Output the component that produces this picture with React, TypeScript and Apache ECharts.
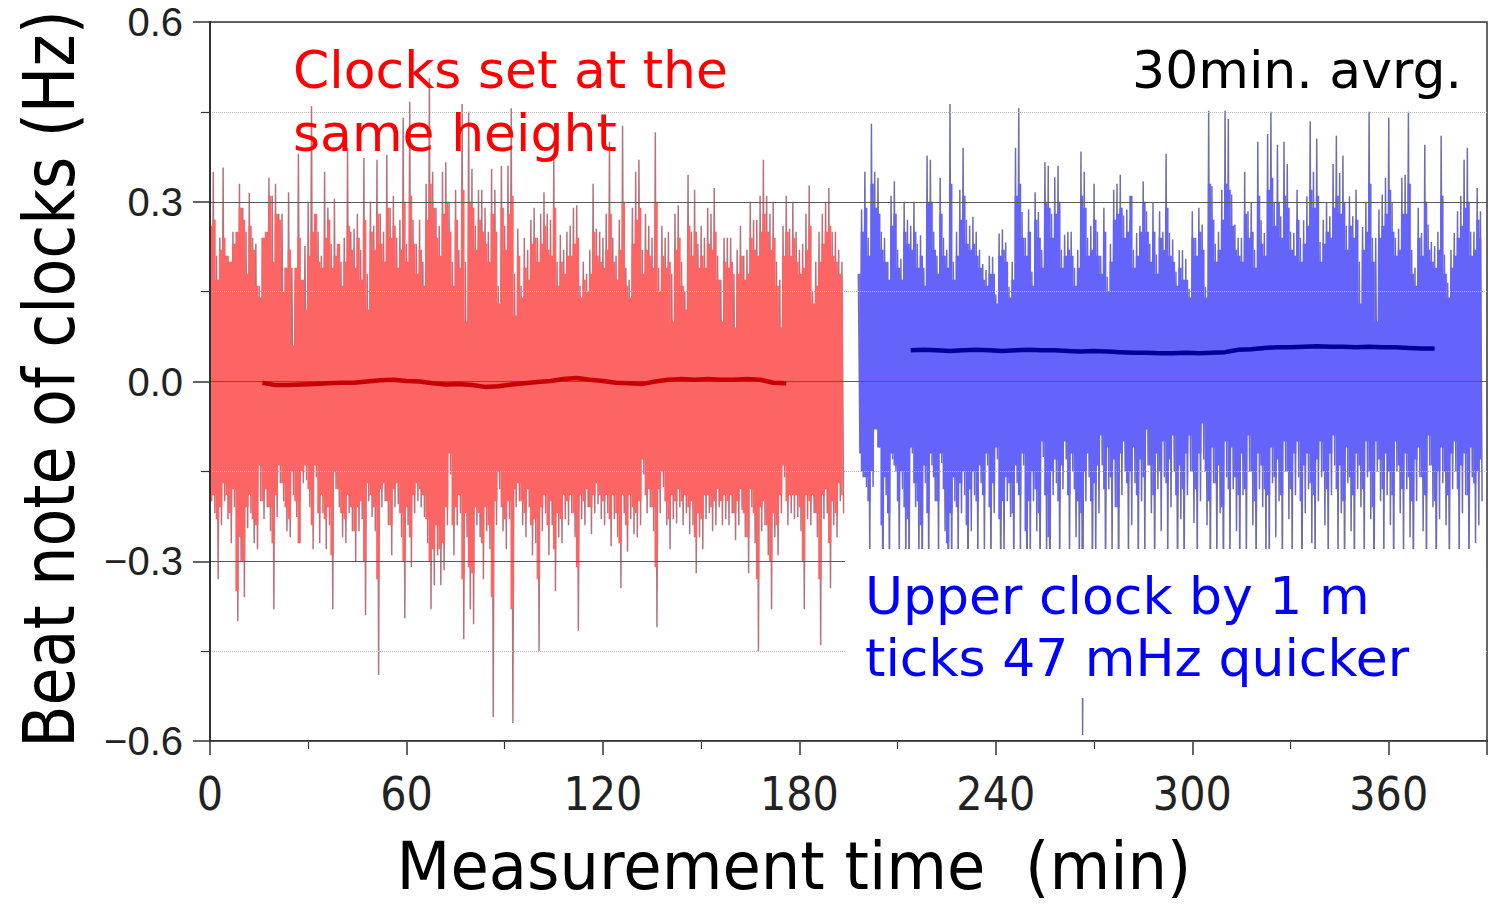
import React, { useEffect, useRef } from "react";
import * as echarts from "echarts";

// ---------- data (minutes, Hz) ----------
const RED_START = 0; // first minute of red record
const BLUE_START = 198; // first minute of blue record
const STEP = 1; // one value per minute in each array below

// spike tips (thin, muted strokes)
const redHigh = [
  0.27, 0.35, 0.21, 0.24, 0.357, 0.21, 0.2, 0.25, 0.22, 0.33,
  0.29, 0.25, 0.315, 0.24, 0.23, 0.16, 0.24, 0.22, 0.34, 0.31,
  0.33, 0.28, 0.28, 0.19, 0.316, 0.19, 0.17, 0.38, 0.16, 0.226,
  0.3, 0.46, 0.22, 0.25, 0.21, 0.35, 0.29, 0.23, 0.305, 0.22,
  0.2, 0.24, 0.39, 0.25, 0.255, 0.28, 0.22, 0.373, 0.18, 0.3,
  0.26, 0.37, 0.28, 0.25, 0.378, 0.29, 0.31, 0.24, 0.27, 0.44,
  0.23, 0.467, 0.27, 0.23, 0.27, 0.2, 0.33, 0.506, 0.35, 0.29,
  0.26, 0.35, 0.366, 0.3, 0.2, 0.32, 0.22, 0.463, 0.2, 0.45,
  0.355, 0.26, 0.32, 0.32, 0.29, 0.25, 0.355, 0.32, 0.16, 0.36,
  0.26, 0.36, 0.456, 0.18, 0.255, 0.16, 0.24, 0.22, 0.27, 0.29,
  0.24, 0.28, 0.316, 0.28, 0.27, 0.37, 0.2, 0.245, 0.22, 0.25,
  0.26, 0.29, 0.294, 0.16, 0.2, 0.18, 0.22, 0.33, 0.255, 0.25,
  0.24, 0.28, 0.4, 0.24, 0.21, 0.27, 0.427, 0.19, 0.17, 0.29,
  0.35, 0.37, 0.22, 0.28, 0.26, 0.24, 0.416, 0.19, 0.26, 0.24,
  0.25, 0.18, 0.28, 0.294, 0.2, 0.15, 0.345, 0.25, 0.32, 0.23,
  0.26, 0.24, 0.29, 0.28, 0.323, 0.21, 0.17, 0.24, 0.24, 0.24,
  0.18, 0.22, 0.26, 0.21, 0.22, 0.3, 0.27, 0.27, 0.31, 0.37,
  0.31, 0.28, 0.3, 0.2, 0.17, 0.26, 0.31, 0.255, 0.3, 0.25,
  0.22, 0.23, 0.28, 0.327, 0.15, 0.2, 0.25, 0.28, 0.3, 0.323,
  0.25, 0.25, 0.22, 0.2,
];
const redLow = [
  -0.19, -0.22, -0.33, -0.24, -0.2, -0.23, -0.27, -0.21, -0.4, -0.3,
  -0.36, -0.245, -0.22, -0.27, -0.28, -0.2, -0.23, -0.21, -0.25, -0.38,
  -0.226, -0.17, -0.2, -0.25, -0.26, -0.19, -0.226, -0.2, -0.17, -0.165,
  -0.21, -0.28, -0.16, -0.27, -0.22, -0.28, -0.24, -0.38, -0.18, -0.21,
  -0.26, -0.27, -0.22, -0.25, -0.3, -0.25, -0.23, -0.39, -0.2, -0.226,
  -0.25, -0.49, -0.21, -0.2, -0.24, -0.29, -0.21, -0.205, -0.26, -0.395,
  -0.24, -0.31, -0.22, -0.2, -0.21, -0.226, -0.27, -0.38, -0.34, -0.29,
  -0.34, -0.315, -0.24, -0.155, -0.29, -0.24, -0.22, -0.43, -0.26, -0.38,
  -0.405, -0.24, -0.26, -0.33, -0.25, -0.28, -0.56, -0.24, -0.18, -0.25,
  -0.28, -0.23, -0.57, -0.21, -0.2, -0.24, -0.26, -0.21, -0.29, -0.27,
  -0.45, -0.25, -0.22, -0.29, -0.24, -0.35, -0.26, -0.27, -0.23, -0.24,
  -0.22, -0.26, -0.416, -0.23, -0.24, -0.21, -0.255, -0.22, -0.205, -0.23,
  -0.24, -0.22, -0.275, -0.23, -0.26, -0.345, -0.22, -0.284, -0.23, -0.255,
  -0.26, -0.24, -0.155, -0.22, -0.21, -0.25, -0.41, -0.22, -0.176, -0.24,
  -0.28, -0.23, -0.237, -0.21, -0.24, -0.22, -0.255, -0.24, -0.32, -0.26,
  -0.28, -0.23, -0.22, -0.25, -0.24, -0.21, -0.24, -0.23, -0.24, -0.22,
  -0.265, -0.24, -0.215, -0.26, -0.32, -0.21, -0.27, -0.45, -0.25, -0.24,
  -0.29, -0.38, -0.26, -0.29, -0.22, -0.16, -0.24, -0.22, -0.23, -0.226,
  -0.25, -0.38, -0.23, -0.24, -0.22, -0.26, -0.44, -0.23, -0.22, -0.345,
  -0.24, -0.26, -0.2, -0.22,
];
// dense bright band edges
const redFillTop = [
  0.26, 0.27, 0.17, 0.22, 0.24, 0.21, 0.2, 0.23, 0.25, 0.29,
  0.27, 0.18, 0.26, 0.22, 0.16, 0.14, 0.24, 0.25, 0.31, 0.2,
  0.28, 0.27, 0.15, 0.19, 0.22, 0.06, 0.19, 0.24, 0.17, 0.12,
  0.21, 0.25, 0.28, 0.2, 0.19, 0.24, 0.27, 0.19, 0.21, 0.23,
  0.16, 0.2, 0.26, 0.22, 0.19, 0.24, 0.17, 0.27, 0.12, 0.25,
  0.22, 0.28, 0.23, 0.2, 0.29, 0.24, 0.26, 0.19, 0.22, 0.3,
  0.2, 0.31, 0.23, 0.18, 0.22, 0.16, 0.27, 0.33, 0.29, 0.24,
  0.21, 0.28, 0.3, 0.25, 0.16, 0.27, 0.19, 0.32, 0.1, 0.3,
  0.29, 0.22, 0.27, 0.25, 0.23, 0.2, 0.28, 0.25, 0.13, 0.29,
  0.22, 0.28, 0.31, 0.11, 0.21, 0.14, 0.19, 0.17, 0.23, 0.24,
  0.2, 0.23, 0.26, 0.22, 0.21, 0.29, 0.16, 0.2, 0.18, 0.21,
  0.21, 0.23, 0.24, 0.14, 0.17, 0.15, 0.18, 0.25, 0.21, 0.2,
  0.19, 0.22, 0.28, 0.2, 0.17, 0.22, 0.3, 0.16, 0.14, 0.23,
  0.27, 0.29, 0.18, 0.22, 0.21, 0.19, 0.3, 0.15, 0.21, 0.19,
  0.2, 0.1, 0.22, 0.24, 0.16, 0.12, 0.26, 0.21, 0.25, 0.19,
  0.21, 0.19, 0.23, 0.22, 0.25, 0.17, 0.1, 0.2, 0.19, 0.2,
  0.09, 0.18, 0.21, 0.17, 0.18, 0.24, 0.22, 0.21, 0.25, 0.28,
  0.25, 0.22, 0.24, 0.16, 0.09, 0.21, 0.25, 0.21, 0.24, 0.2,
  0.18, 0.19, 0.22, 0.26, 0.13, 0.16, 0.2, 0.23, 0.25, 0.26,
  0.21, 0.2, 0.18, 0.17,
];
const redFillBottom = [
  -0.2, -0.19, -0.23, -0.21, -0.17, -0.19, -0.22, -0.18, -0.35, -0.26,
  -0.3, -0.21, -0.19, -0.23, -0.24, -0.14, -0.2, -0.18, -0.21, -0.27,
  -0.19, -0.14, -0.17, -0.21, -0.23, -0.15, -0.2, -0.27, -0.15, -0.14,
  -0.18, -0.24, -0.14, -0.22, -0.19, -0.23, -0.21, -0.29, -0.15, -0.18,
  -0.22, -0.23, -0.19, -0.21, -0.25, -0.21, -0.2, -0.3, -0.17, -0.19,
  -0.21, -0.33, -0.18, -0.17, -0.2, -0.24, -0.18, -0.17, -0.22, -0.3,
  -0.21, -0.26, -0.19, -0.17, -0.18, -0.19, -0.23, -0.3, -0.28, -0.24,
  -0.28, -0.27, -0.21, -0.12, -0.24, -0.21, -0.19, -0.33, -0.22, -0.31,
  -0.32, -0.21, -0.22, -0.27, -0.21, -0.24, -0.36, -0.2, -0.15, -0.21,
  -0.23, -0.2, -0.38, -0.18, -0.17, -0.2, -0.22, -0.18, -0.24, -0.23,
  -0.33, -0.21, -0.19, -0.24, -0.2, -0.28, -0.22, -0.23, -0.19, -0.2,
  -0.19, -0.22, -0.31, -0.19, -0.2, -0.18, -0.21, -0.19, -0.17, -0.19,
  -0.2, -0.19, -0.23, -0.19, -0.22, -0.27, -0.19, -0.24, -0.19, -0.21,
  -0.22, -0.2, -0.13, -0.19, -0.18, -0.21, -0.31, -0.18, -0.15, -0.2,
  -0.23, -0.19, -0.2, -0.18, -0.2, -0.19, -0.21, -0.2, -0.26, -0.22,
  -0.23, -0.19, -0.19, -0.21, -0.2, -0.18, -0.2, -0.19, -0.2, -0.19,
  -0.22, -0.2, -0.18, -0.22, -0.26, -0.18, -0.22, -0.33, -0.21, -0.2,
  -0.24, -0.3, -0.22, -0.24, -0.19, -0.14, -0.2, -0.19, -0.19, -0.19,
  -0.21, -0.3, -0.19, -0.2, -0.19, -0.22, -0.33, -0.19, -0.18, -0.27,
  -0.2, -0.22, -0.17, -0.19,
];

const blueHigh = [
  0.18, 0.287, 0.35, 0.24, 0.43, 0.35, 0.34, 0.25, 0.24, 0.2,
  0.31, 0.334, 0.22, 0.205, 0.3, 0.27, 0.26, 0.3, 0.23, 0.244,
  0.19, 0.377, 0.37, 0.25, 0.21, 0.34, 0.24, 0.22, 0.463, 0.2,
  0.25, 0.32, 0.39, 0.27, 0.26, 0.275, 0.25, 0.22, 0.196, 0.186,
  0.21, 0.208, 0.145, 0.247, 0.254, 0.232, 0.158, 0.2, 0.39, 0.456,
  0.283, 0.24, 0.287, 0.183, 0.316, 0.283, 0.22, 0.366, 0.36, 0.28,
  0.341, 0.36, 0.22, 0.245, 0.25, 0.25, 0.19, 0.22, 0.384, 0.35,
  0.24, 0.26, 0.33, 0.25, 0.21, 0.29, 0.175, 0.23, 0.32, 0.33,
  0.345, 0.277, 0.287, 0.269, 0.22, 0.248, 0.26, 0.334, 0.284, 0.23,
  0.298, 0.212, 0.284, 0.25, 0.38, 0.248, 0.237, 0.183, 0.219, 0.219,
  0.205, 0.154, 0.284, 0.24, 0.29, 0.262, 0.158, 0.452, 0.326, 0.23,
  0.25, 0.32, 0.452, 0.438, 0.312, 0.262, 0.24, 0.24, 0.35, 0.284,
  0.298, 0.22, 0.4, 0.269, 0.248, 0.413, 0.45, 0.3, 0.395, 0.276,
  0.4, 0.363, 0.25, 0.248, 0.32, 0.24, 0.269, 0.309, 0.434, 0.35,
  0.405, 0.233, 0.27, 0.298, 0.276, 0.363, 0.41, 0.348, 0.377, 0.26,
  0.309, 0.276, 0.32, 0.2, 0.258, 0.3, 0.45, 0.24, 0.24, 0.287,
  0.312, 0.34, 0.44, 0.298, 0.24, 0.255, 0.34, 0.345, 0.45, 0.22,
  0.19, 0.29, 0.248, 0.395, 0.262, 0.233, 0.226, 0.25, 0.41, 0.212,
  0.165, 0.22, 0.248, 0.284, 0.31, 0.37, 0.39, 0.25, 0.25, 0.323,
  0.284,
];
const blueLow = [
  -0.11, -0.16, -0.176, -0.3, -0.176, -0.075, -0.11, -0.38, -0.19, -0.33,
  -0.13, -0.15, -0.29, -0.18, -0.31, -0.34, -0.12, -0.21, -0.3, -0.36,
  -0.17, -0.33, -0.14, -0.2, -0.29, -0.136, -0.25, -0.42, -0.33, -0.2,
  -0.31, -0.22, -0.19, -0.36, -0.25, -0.19, -0.3, -0.17, -0.28, -0.14,
  -0.32, -0.22, -0.13, -0.35, -0.3, -0.2, -0.226, -0.34, -0.17, -0.29,
  -0.14, -0.38, -0.31, -0.2, -0.25, -0.33, -0.126, -0.29, -0.4, -0.19,
  -0.17, -0.32, -0.18, -0.13, -0.3, -0.15, -0.26, -0.31, -0.59, -0.2,
  -0.16, -0.35, -0.3, -0.22, -0.14, -0.33, -0.18, -0.29, -0.21, -0.38,
  -0.19, -0.15, -0.3, -0.24, -0.17, -0.32, -0.2, -0.29, -0.14, -0.22,
  -0.33, -0.18, -0.25, -0.16, -0.3, -0.21, -0.15, -0.34, -0.23, -0.33,
  -0.19, -0.15, -0.236, -0.31, -0.2, -0.13, -0.24, -0.35, -0.17, -0.3,
  -0.22, -0.37, -0.16, -0.31, -0.18, -0.25, -0.32, -0.19, -0.31, -0.15,
  -0.24, -0.34, -0.18, -0.21, -0.3, -0.33, -0.17, -0.26, -0.2, -0.33,
  -0.15, -0.23, -0.3, -0.19, -0.16, -0.35, -0.22, -0.18, -0.27, -0.32,
  -0.2, -0.16, -0.24, -0.31, -0.19, -0.14, -0.3, -0.22, -0.34, -0.17,
  -0.25, -0.33, -0.18, -0.21, -0.3, -0.16, -0.23, -0.36, -0.15, -0.2,
  -0.3, -0.19, -0.24, -0.33, -0.15, -0.22, -0.3, -0.18, -0.26, -0.34,
  -0.2, -0.16, -0.25, -0.33, -0.14, -0.21, -0.35, -0.23, -0.17, -0.24,
  -0.32, -0.18, -0.15, -0.3, -0.22, -0.19, -0.33, -0.16, -0.27, -0.24,
  -0.2,
];
const blueFillTop = [
  0.18, 0.25, 0.29, 0.21, 0.33, 0.29, 0.28, 0.22, 0.2, 0.17,
  0.26, 0.28, 0.19, 0.17, 0.25, 0.23, 0.22, 0.25, 0.19, 0.21,
  0.16, 0.3, 0.3, 0.22, 0.18, 0.28, 0.21, 0.19, 0.33, 0.17,
  0.21, 0.27, 0.31, 0.23, 0.22, 0.23, 0.21, 0.19, 0.17, 0.16,
  0.18, 0.18, 0.13, 0.21, 0.22, 0.2, 0.14, 0.17, 0.31, 0.33,
  0.24, 0.21, 0.25, 0.16, 0.27, 0.24, 0.19, 0.3, 0.29, 0.24,
  0.28, 0.3, 0.19, 0.21, 0.22, 0.21, 0.16, 0.19, 0.31, 0.29,
  0.21, 0.22, 0.27, 0.21, 0.18, 0.25, 0.15, 0.2, 0.27, 0.28,
  0.29, 0.24, 0.25, 0.31, 0.19, 0.21, 0.25, 0.3, 0.25, 0.2,
  0.25, 0.18, 0.24, 0.22, 0.29, 0.21, 0.2, 0.16, 0.19, 0.17,
  0.17, 0.14, 0.24, 0.21, 0.25, 0.22, 0.14, 0.33, 0.27, 0.2,
  0.22, 0.27, 0.33, 0.32, 0.26, 0.22, 0.21, 0.2, 0.28, 0.24,
  0.25, 0.19, 0.31, 0.23, 0.21, 0.32, 0.34, 0.26, 0.3, 0.24,
  0.31, 0.29, 0.22, 0.21, 0.27, 0.2, 0.23, 0.26, 0.32, 0.29,
  0.31, 0.2, 0.23, 0.25, 0.24, 0.29, 0.31, 0.28, 0.3, 0.22,
  0.26, 0.24, 0.27, 0.13, 0.22, 0.25, 0.33, 0.2, 0.1, 0.24,
  0.26, 0.28, 0.32, 0.25, 0.21, 0.22, 0.28, 0.28, 0.33, 0.18,
  0.16, 0.24, 0.21, 0.3, 0.22, 0.2, 0.19, 0.22, 0.31, 0.18,
  0.14, 0.19, 0.21, 0.24, 0.26, 0.29, 0.3, 0.21, 0.22, 0.27,
  0.24,
];
const blueFillBottom = [
  -0.12, -0.15, -0.16, -0.2, -0.15, -0.08, -0.11, -0.24, -0.16, -0.22,
  -0.12, -0.14, -0.2, -0.15, -0.21, -0.23, -0.11, -0.17, -0.2, -0.24,
  -0.14, -0.22, -0.12, -0.16, -0.2, -0.12, -0.18, -0.27, -0.22, -0.16,
  -0.21, -0.17, -0.15, -0.24, -0.18, -0.15, -0.2, -0.14, -0.19, -0.12,
  -0.21, -0.17, -0.11, -0.23, -0.2, -0.16, -0.17, -0.22, -0.14, -0.19,
  -0.12, -0.25, -0.2, -0.15, -0.18, -0.22, -0.1, -0.19, -0.26, -0.15,
  -0.13, -0.2, -0.14, -0.1, -0.19, -0.12, -0.18, -0.2, -0.22, -0.15,
  -0.12, -0.2, -0.17, -0.14, -0.09, -0.18, -0.11, -0.16, -0.13, -0.21,
  -0.12, -0.1, -0.17, -0.15, -0.11, -0.19, -0.13, -0.16, -0.08, -0.14,
  -0.19, -0.12, -0.15, -0.1, -0.17, -0.13, -0.09, -0.19, -0.14, -0.18,
  -0.12, -0.09, -0.15, -0.18, -0.12, -0.07, -0.15, -0.2, -0.11, -0.17,
  -0.14, -0.21, -0.1, -0.18, -0.11, -0.16, -0.19, -0.12, -0.18, -0.09,
  -0.15, -0.2, -0.12, -0.14, -0.18, -0.19, -0.11, -0.16, -0.13, -0.19,
  -0.1, -0.15, -0.18, -0.12, -0.1, -0.2, -0.14, -0.12, -0.17, -0.19,
  -0.13, -0.1, -0.15, -0.18, -0.12, -0.09, -0.18, -0.14, -0.2, -0.11,
  -0.16, -0.19, -0.12, -0.14, -0.18, -0.1, -0.15, -0.21, -0.1, -0.13,
  -0.18, -0.12, -0.15, -0.19, -0.1, -0.14, -0.18, -0.12, -0.16, -0.2,
  -0.13, -0.11, -0.16, -0.19, -0.09, -0.14, -0.2, -0.15, -0.11, -0.15,
  -0.19, -0.12, -0.1, -0.18, -0.14, -0.12, -0.19, -0.11, -0.17, -0.15,
  -0.13,
];

// 30-minute running averages, one value every 4 minutes
const AVG_STEP = 4;
const RED_AVG_START = 16;
const redAvg = [
  -0.002, -0.006, -0.006, -0.005, -0.004, -0.003, -0.002, -0.002, 0.0, 0.002,
  0.003, 0.001, 0.0, -0.003, -0.005, -0.004, -0.006, -0.009, -0.008, -0.005,
  -0.003, -0.001, 0.001, 0.004, 0.006, 0.003, 0.001, -0.002, -0.003, -0.004,
  0.0, 0.003, 0.004, 0.003, 0.004, 0.003, 0.003, 0.004, 0.003, -0.002,
  -0.003,
];
const BLUE_AVG_START = 214;
const blueAvg = [
  0.052, 0.053, 0.052, 0.051, 0.052, 0.053, 0.052, 0.051, 0.052, 0.053,
  0.052, 0.052, 0.051, 0.05, 0.051, 0.05, 0.049, 0.048, 0.048, 0.047,
  0.047, 0.048, 0.047, 0.048, 0.049, 0.053, 0.054, 0.056, 0.057, 0.057,
  0.058, 0.059, 0.058, 0.058, 0.057, 0.058, 0.057, 0.057, 0.056, 0.055,
  0.055,
];

const X_MIN = 0;
const X_MAX = 390;
const X_INTERVAL = 60;
const Y_MIN = -0.6;
const Y_MAX = 0.6;
const Y_INTERVAL = 0.3;

const X_TITLE = "Measurement time  (min)";
const Y_TITLE = "Beat note of clocks (Hz)";
const RED_LABEL = ["Clocks set at the", "same height"];
const BLUE_LABEL = ["Upper clock by 1 m", "ticks 47 mHz quicker"];
const AVG_LABEL = "30min. avrg.";

// ---------- helpers ----------
const zigzag = (start: number, hi: number[], lo: number[]) => {
  const out: number[][] = [];
  hi.forEach((h, i) => {
    out.push([start + i * STEP, h]);
    out.push([start + i * STEP + STEP / 2, lo[i]]);
  });
  return out;
};
const columns = (start: number, vals: number[]) =>
  vals.map((v, i) => [start + i * STEP + STEP / 4, v]);
const stepped = (start: number, step: number, vals: number[]) =>
  vals.map((v, i) => [start + i * step, v]);

const DV = '"DejaVu Sans", Verdana, sans-serif';

export default function App() {
  const ref = useRef<HTMLDivElement>(null);
  useEffect(() => {
    if (!ref.current) return;
    const chart = echarts.init(ref.current, undefined, { renderer: "svg" });

    const RED_FILL = "#fd6464";
    const RED_SPIKE = "#b9727b";
    const BLUE_FILL = "#6464fa";
    const BLUE_SPIKE = "#6e6eae";

    const band = (data: number[][], color: string) => ({
      type: "line",
      data,
      step: "middle",
      symbol: "none",
      silent: true,
      lineStyle: { width: 0, color },
      areaStyle: { color, opacity: 1 },
      z: 3,
    });
    const spikes = (data: number[][], color: string) => ({
      type: "line",
      data,
      symbol: "none",
      silent: true,
      lineStyle: { color, width: 1.5 },
      z: 2,
    });

    chart.setOption({
      animation: false,
      grid: {
        left: 210,
        right: 21,
        top: 22,
        bottom: 166,
        show: true,
        borderColor: "#333",
        borderWidth: 1.5,
      },
      xAxis: {
        type: "value",
        min: X_MIN,
        max: X_MAX,
        interval: X_INTERVAL,
        axisLine: { onZero: false, lineStyle: { color: "#333", width: 2 } },
        axisTick: { show: true, length: 14, lineStyle: { color: "#333", width: 1.5 } },
        minorTick: { show: true, splitNumber: 2, length: 8, lineStyle: { color: "#333", width: 1.2 } },
        splitLine: { show: false },
        axisLabel: {
          margin: 30,
          fontFamily: '"Liberation Sans Narrow", "DejaVu Sans Condensed", sans-serif',
          fontSize: 46,
          color: "#222",
          formatter: (v: number) => (v > 360 ? "" : String(v)),
        },
      },
      yAxis: {
        type: "value",
        min: Y_MIN,
        max: Y_MAX,
        interval: Y_INTERVAL,
        z: 5,
        axisLine: { show: true, onZero: false, lineStyle: { color: "#333", width: 2 } },
        axisTick: { show: true, length: 17, lineStyle: { color: "#333", width: 1.5 } },
        minorTick: { show: true, splitNumber: 2, length: 9, lineStyle: { color: "#333", width: 1.2 } },
        splitLine: { show: true, lineStyle: { color: "#5a5a5a", width: 1 } },
        minorSplitLine: { show: true, lineStyle: { color: "#b8b8b8", width: 1, type: "dotted" } },
        axisLabel: {
          margin: 27,
          fontFamily: '"Liberation Sans", Arial, sans-serif',
          fontSize: 40,
          color: "#222",
          formatter: (v: number) =>
            (v < 0 ? "\u2212" : "") + Math.abs(v).toFixed(1),
        },
      },
      series: [
        spikes(zigzag(RED_START, redHigh, redLow), RED_SPIKE),
        spikes(zigzag(BLUE_START, blueHigh, blueLow), BLUE_SPIKE),
        band(columns(RED_START, redFillTop), RED_FILL),
        band(columns(RED_START, redFillBottom), RED_FILL),
        band(columns(BLUE_START, blueFillTop), BLUE_FILL),
        band(columns(BLUE_START, blueFillBottom), BLUE_FILL),
        {
          type: "line",
          data: stepped(RED_AVG_START, AVG_STEP, redAvg),
          symbol: "none",
          silent: true,
          lineStyle: { color: "#c80000", width: 4.5 },
          z: 8,
        },
        {
          type: "line",
          data: stepped(BLUE_AVG_START, AVG_STEP, blueAvg),
          symbol: "none",
          silent: true,
          lineStyle: { color: "#00009a", width: 4.5 },
          z: 8,
        },
      ],
      graphic: [
        {
          type: "rect",
          z: 100,
          silent: true,
          shape: { x: 845, y: 549, width: 641, height: 149 },
          style: { fill: "#ffffff" },
        },
        {
          type: "text",
          z: 101,
          x: 293,
          y: 70,
          style: { text: RED_LABEL[0], font: `52px ${DV}`, fill: "#ff0000", textAlign: "left", textVerticalAlign: "middle" },
        },
        {
          type: "text",
          z: 101,
          x: 293,
          y: 133,
          style: { text: RED_LABEL[1], font: `52px ${DV}`, fill: "#ff0000", textAlign: "left", textVerticalAlign: "middle" },
        },
        {
          type: "text",
          z: 101,
          x: 1462,
          y: 70,
          style: { text: AVG_LABEL, font: `52px ${DV}`, fill: "#000000", textAlign: "right", textVerticalAlign: "middle" },
        },
        {
          type: "text",
          z: 101,
          x: 865,
          y: 596,
          style: { text: BLUE_LABEL[0], font: `52px ${DV}`, fill: "#0000ff", textAlign: "left", textVerticalAlign: "middle" },
        },
        {
          type: "text",
          z: 101,
          x: 865,
          y: 658,
          style: { text: BLUE_LABEL[1], font: `52px ${DV}`, fill: "#0000ff", textAlign: "left", textVerticalAlign: "middle" },
        },
        {
          type: "text",
          z: 101,
          x: 794,
          y: 866,
          scaleX: 0.945,
          style: { text: X_TITLE, font: `66px ${DV}`, fill: "#000000", textAlign: "center", textVerticalAlign: "middle" },
        },
        {
          type: "text",
          z: 101,
          x: 49,
          y: 379,
          rotation: Math.PI / 2,
          scaleX: 0.858,
          style: { text: Y_TITLE, font: `72px ${DV}`, fill: "#000000", textAlign: "center", textVerticalAlign: "middle" },
        },
      ],
    });
    return () => chart.dispose();
  }, []);

  return (
    <div
      ref={ref}
      style={{ position: "absolute", left: 0, top: 0, width: 1508, height: 907, background: "#fff" }}
    />
  );
}
